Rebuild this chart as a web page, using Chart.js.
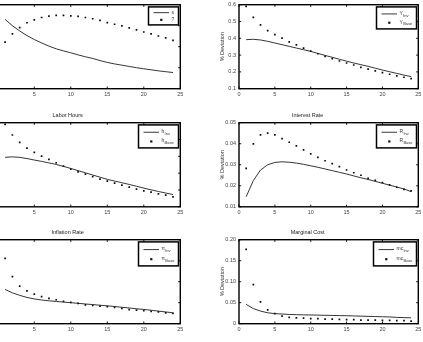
<!DOCTYPE html>
<html><head><meta charset="utf-8">
<script src="https://cdn.jsdelivr.net/npm/chart.js@4"></script>
<style>
html,body{margin:0;padding:0;width:423px;height:342px;overflow:hidden;background:#fff;position:relative}
canvas{position:absolute;display:block}
</style></head><body>
<script>
// ---- data ----
const t = [1,2,3,4,5,6,7,8,9,10,11,12,13,14,15,16,17,18,19,20,21,22,23,24];
const xTicks = [0,5,10,15,20,25];

const sInv  = [0.330,0.300,0.275,0.253,0.234,0.218,0.203,0.190,0.180,0.171,0.161,0.152,0.144,0.134,0.125,0.118,0.112,0.106,0.100,0.095,0.090,0.085,0.081,0.077];
const sBase = [0.222,0.261,0.291,0.314,0.328,0.339,0.346,0.349,0.349,0.347,0.344,0.339,0.333,0.325,0.315,0.307,0.299,0.290,0.280,0.270,0.261,0.251,0.242,0.230];

const yInv  = [0.392,0.394,0.390,0.382,0.372,0.362,0.352,0.342,0.332,0.322,0.310,0.298,0.287,0.275,0.264,0.253,0.243,0.233,0.222,0.211,0.201,0.191,0.181,0.172];
const yBase = [0.590,0.525,0.480,0.446,0.422,0.401,0.379,0.361,0.342,0.324,0.308,0.292,0.279,0.265,0.253,0.241,0.227,0.217,0.206,0.196,0.186,0.176,0.168,0.160];

const hInv  = [0.394,0.397,0.394,0.387,0.378,0.370,0.361,0.352,0.340,0.328,0.315,0.302,0.289,0.276,0.263,0.253,0.243,0.233,0.222,0.211,0.201,0.191,0.182,0.173];
const hBase = [0.590,0.527,0.483,0.449,0.423,0.401,0.382,0.362,0.342,0.324,0.308,0.294,0.279,0.265,0.253,0.241,0.229,0.217,0.205,0.195,0.187,0.177,0.169,0.159];

const rInv  = [0.0148,0.0225,0.0275,0.0300,0.0311,0.0314,0.0312,0.0308,0.0302,0.0295,0.0288,0.0280,0.0272,0.0264,0.0256,0.0247,0.0238,0.0230,0.0221,0.0212,0.0203,0.0194,0.0185,0.0172];
const rBase = [0.0283,0.0399,0.0442,0.0450,0.0442,0.0424,0.0407,0.0390,0.0371,0.0352,0.0335,0.0319,0.0305,0.0291,0.0275,0.0262,0.0250,0.0235,0.0226,0.0215,0.0204,0.0193,0.0183,0.0176];

const piInv  = [0.163,0.147,0.135,0.125,0.118,0.113,0.109,0.106,0.103,0.100,0.097,0.094,0.091,0.088,0.085,0.082,0.078,0.075,0.071,0.068,0.064,0.060,0.056,0.052];
const piBase = [0.311,0.224,0.179,0.156,0.141,0.129,0.121,0.114,0.106,0.102,0.097,0.090,0.087,0.084,0.081,0.078,0.073,0.067,0.065,0.062,0.059,0.056,0.052,0.049];

const mcInv  = [0.046,0.036,0.030,0.026,0.024,0.023,0.022,0.0215,0.021,0.0208,0.0204,0.020,0.0197,0.0193,0.019,0.0185,0.018,0.0175,0.017,0.0165,0.016,0.015,0.0145,0.014];
const mcBase = [0.177,0.093,0.052,0.033,0.024,0.018,0.015,0.014,0.0135,0.012,0.012,0.011,0.011,0.0103,0.0095,0.0095,0.0087,0.0087,0.0087,0.008,0.008,0.0071,0.0071,0.0063];

// ---- layout / style ----
const FONT = "'Liberation Sans', Arial, Helvetica, sans-serif";
const panels = [
  {title:null, area:{l:-2.2,t:4.7,r:180.3,b:88.7}, y:[0,0.4,0.1], ylab:false, inv:sInv, base:sBase, leg:[['s',''],['?','']], legW:30, legH:18},
  {title:null, area:{l:239,t:4.7,r:418.3,b:88.7}, y:[0.1,0.6,0.1], ylab:true, inv:yInv, base:yBase, leg:[['Y','Inv'],['Y','Base']], legW:40, legH:22},
  {title:'Labor Hours', area:{l:-2.2,t:122.7,r:180.3,b:206.8}, y:[0.1,0.6,0.1], ylab:false, inv:hInv, base:hBase, leg:[['h','Inv'],['h','Base']], legW:40, legH:23},
  {title:'Interest Rate', area:{l:239,t:122.7,r:418.3,b:206.8}, y:[0.01,0.05,0.01], ylab:true, inv:rInv, base:rBase, leg:[['R','Inv'],['R','Base']], legW:40, legH:23},
  {title:'Inflation Rate', area:{l:-2.2,t:239.7,r:180.3,b:323.7}, y:[0,0.4,0.1], ylab:false, inv:piInv, base:piBase, leg:[['\u03c0','Inv'],['\u03c0','Base']], legW:40, legH:24},
  {title:'Marginal Cost', area:{l:239,t:239.7,r:418.3,b:323.7}, y:[0,0.2,0.05], ylab:true, inv:mcInv, base:mcBase, leg:[['mc','Inv'],['mc','Base']], legW:43, legH:24}
];

const framePlugin = {
  id:'frame',
  afterDraw(chart){
    const {ctx, chartArea:a, scales:{x, y}} = chart;
    const L = 2.2;
    ctx.save();
    ctx.strokeStyle = '#000';
    ctx.lineWidth = 0.9;
    ctx.beginPath();
    x.ticks.forEach(tk=>{
      const px = x.getPixelForValue(tk.value);
      ctx.moveTo(px, a.bottom); ctx.lineTo(px, a.bottom - L);
      ctx.moveTo(px, a.top); ctx.lineTo(px, a.top + L);
    });
    y.ticks.forEach(tk=>{
      const py = y.getPixelForValue(tk.value);
      ctx.moveTo(a.left, py); ctx.lineTo(a.left + L, py);
      ctx.moveTo(a.right, py); ctx.lineTo(a.right - L, py);
    });
    ctx.stroke();
    ctx.lineWidth = 1.4;
    ctx.strokeRect(a.left, a.top, a.right - a.left, a.bottom - a.top);
    // legend
    const p = chart.options.plugins.frame;
    const w = p.legW, h = p.legH;
    const bx = a.right - 1.8 - w, by = a.top + 2.2;
    ctx.fillStyle = '#fff';
    ctx.fillRect(bx, by, w, h);
    ctx.strokeStyle = '#000';
    ctx.lineWidth = 1.5;
    ctx.strokeRect(bx, by, w, h);
    const y1 = by + h*0.32, y2 = by + h*0.72;
    ctx.strokeStyle = '#222'; ctx.lineWidth = 0.9;
    ctx.beginPath(); ctx.moveTo(bx + 5, y1); ctx.lineTo(bx + 20.5, y1); ctx.stroke();
    ctx.fillStyle = '#111';
    ctx.fillRect(bx + 12.8 - 1.1, y2 - 1.1, 2.2, 2.2);
    ctx.fillStyle = '#333';
    ctx.textBaseline = 'middle'; ctx.textAlign = 'left';
    [[p.leg[0], y1], [p.leg[1], y2]].forEach(([lab, yy])=>{
      ctx.font = '5px ' + FONT;
      const tx = bx + 23;
      ctx.fillText(lab[0], tx, yy - 0.5);
      const mw = ctx.measureText(lab[0]).width;
      if (lab[1]) {
        ctx.font = '4px ' + FONT;
        ctx.fillText(lab[1], tx + mw + 0.3, yy + 1.6);
      }
    });
    ctx.restore();
  }
};

panels.forEach(p=>{
  const padL = 42, padR = 5, padT = 16, padB = 14;
  const cl = Math.floor(p.area.l - padL), ct = Math.floor(p.area.t - padT);
  const W = Math.ceil(p.area.r + padR) - cl, H = Math.ceil(p.area.b + padB) - ct;
  const yW = p.area.l - cl, topH = p.area.t - ct, xH = (ct + H) - p.area.b, rightPad = (cl + W) - p.area.r;
  const cv = document.createElement('canvas');
  cv.width = W; cv.height = H;
  cv.style.left = cl + 'px'; cv.style.top = ct + 'px';
  cv.style.width = W + 'px'; cv.style.height = H + 'px';
  document.body.appendChild(cv);
  const tfs = 5.5, tlh = tfs * 1.2;
  const titleBottom = 7.7 - tlh/2;
  new Chart(cv.getContext('2d'), {
    type:'line',
    data:{
      datasets:[
        {data: t.map((x,i)=>({x, y:p.inv[i]})), borderColor:'#1e1e1e', borderWidth:0.9, pointRadius:0, tension:0, fill:false},
        {data: t.map((x,i)=>({x, y:p.base[i]})), showLine:false, pointStyle:'rect', pointRadius:1.2, pointBackgroundColor:'#0a0a0a', pointBorderWidth:0, borderColor:'#0a0a0a'}
      ]
    },
    options:{
      responsive:false, animation:false, events:[], devicePixelRatio:1,
      layout:{padding:{left:0, right:rightPad, top: p.title ? 0 : topH, bottom:0}},
      plugins:{
        legend:{display:false}, tooltip:{enabled:false},
        title:{display:!!p.title, text:p.title||'', color:'#222', font:{family:FONT, size:tfs, weight:'normal'},
               padding:{top: topH - tlh - titleBottom, bottom: titleBottom}},
        frame:{leg:p.leg, legW:p.legW, legH:p.legH}
      },
      scales:{
        x:{type:'linear', min:0, max:25,
           afterBuildTicks: s=>{ s.ticks = xTicks.map(v=>({value:v})); },
           ticks:{font:{family:FONT, size:5.5}, color:'#444', padding:2.5, maxRotation:0, autoSkip:false},
           grid:{display:false, drawTicks:false}, border:{display:false},
           afterFit: s=>{ s.height = xH; }},
        y:{type:'linear', min:p.y[0], max:p.y[1],
           ticks:{stepSize:p.y[2], font:{family:FONT, size:5.5}, color:'#444', padding:3, autoSkip:false},
           grid:{display:false, drawTicks:false}, border:{display:false},
           title:{display:p.ylab, text:'% Deviation', color:'#333', font:{family:FONT, size:5.5}, padding:{top:(222.7 - cl) - 3.3, bottom:0}},
           afterFit: s=>{ s.width = yW; }}
      }
    },
    plugins:[framePlugin]
  });
});
</script>
</body></html>
